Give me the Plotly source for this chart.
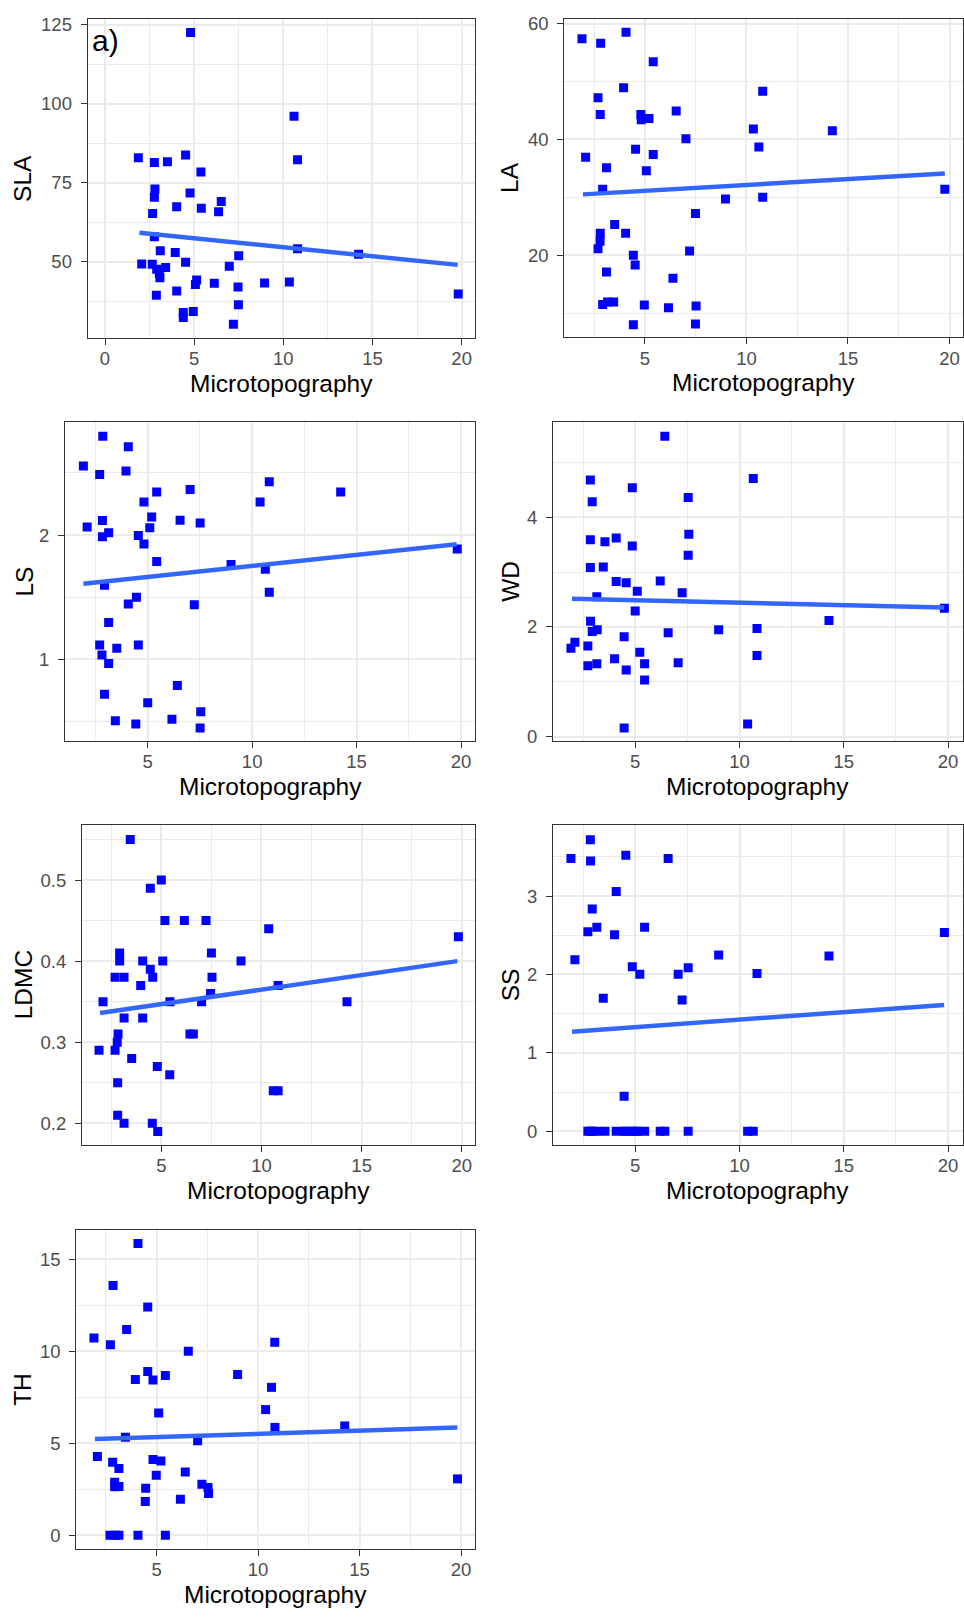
import plotly.graph_objects as go

W, H = 964, 1619

# ---------------- data ----------------
sla_x = [4.80, 10.60, 1.87, 4.52, 2.77, 3.50, 10.80, 5.38, 2.80, 2.77, 4.77, 4.02, 5.40, 6.52,
         6.37, 2.67, 2.77, 3.10, 3.94, 10.80, 14.22, 7.50, 2.06, 2.65, 4.52, 6.97, 2.90, 3.40,
         3.05, 3.08, 5.14, 5.07, 6.13, 7.46, 8.95, 10.34, 2.88, 4.02, 19.81, 7.48, 4.39, 4.39,
         4.95, 7.20]
sla_y = [122.6, 96.1, 82.9, 83.8, 81.4, 81.7, 82.3, 78.4, 73.0, 70.4, 71.8, 67.4, 66.9, 69.1,
         65.8, 65.3, 57.9, 53.5, 52.9, 54.1, 52.4, 51.9, 49.3, 49.2, 49.8, 48.6, 47.6, 48.2,
         46.3, 44.9, 44.2, 42.8, 43.2, 42.0, 43.3, 43.6, 39.4, 40.7, 39.8, 36.4, 33.9, 32.3,
         34.2, 30.2]
sla_fit_x = [1.93, 19.78]
sla_fit_y = [59.2, 49.0]

la_x = [1.90, 2.82, 4.07, 5.41, 3.95, 2.69, 10.80, 2.80, 4.80, 4.82, 5.20, 6.54, 10.34, 14.23,
        7.02, 10.61, 4.54, 5.41, 2.08, 3.11, 5.07, 2.92, 19.77, 8.97, 10.80, 7.49, 3.51, 4.05,
        2.80, 2.79, 2.69, 4.43, 7.20, 4.52, 3.11, 6.38, 2.92, 3.16, 3.46, 4.97, 6.16, 7.52,
        4.43, 7.49]
la_y = [57.4, 56.6, 58.5, 53.4, 48.9, 47.2, 48.3, 44.3, 44.3, 43.4, 43.6, 44.9, 41.8, 41.5,
        40.1, 38.7, 38.3, 37.4, 36.9, 35.1, 34.6, 31.4, 31.4, 29.7, 30.0, 27.2, 25.3, 23.8,
        23.8, 22.4, 21.1, 20.0, 20.7, 18.3, 17.1, 16.0, 11.5, 11.9, 11.9, 11.4, 10.9, 11.2,
        8.0, 8.1]
la_fit_x = [1.95, 19.77]
la_fit_y = [30.5, 34.1]

ls_x = [2.85, 4.07, 1.92, 2.70, 3.96, 10.82, 7.03, 5.43, 14.24, 4.82, 10.38, 5.19, 2.83, 6.55,
        7.51, 2.10, 5.10, 3.13, 2.83, 4.55, 4.82, 19.82, 5.43, 8.99, 10.63, 2.93, 4.46, 4.07,
        7.23, 10.82, 3.13, 2.70, 3.52, 4.55, 2.81, 3.13, 6.42, 2.93, 5.00, 7.54, 3.45, 4.43,
        6.16, 7.51]
ls_y = [2.795, 2.71, 2.556, 2.487, 2.516, 2.428, 2.367, 2.346, 2.346, 2.266, 2.266, 2.146,
        2.117, 2.12, 2.098, 2.066, 2.059, 2.019, 1.987, 1.997, 1.928, 1.888, 1.787, 1.763,
        1.726, 1.596, 1.500, 1.447, 1.439, 1.540, 1.298, 1.117, 1.090, 1.117, 1.037, 0.968,
        0.790, 0.721, 0.652, 0.580, 0.508, 0.481, 0.519, 0.449]
ls_fit_x = [1.92, 19.79]
ls_fit_y = [1.609, 1.926]

wd_x = [6.42, 2.85, 10.66, 4.86, 2.94, 7.54, 7.57, 2.85, 4.09, 3.55, 4.86, 7.54, 2.85, 3.47,
        4.09, 4.57, 6.20, 5.10, 7.25, 3.16, 19.82, 5.00, 2.86, 14.29, 2.94, 3.18, 6.58, 9.00,
        10.84, 4.47, 2.11, 1.92, 2.73, 5.22, 4.01, 10.84, 2.73, 3.16, 5.45, 7.06, 4.57, 5.45,
        4.47, 10.39]
wd_y = [5.478, 4.682, 4.706, 4.537, 4.284, 4.362, 3.692, 3.590, 3.620, 3.554, 3.475, 3.306,
        3.083, 3.095, 2.830, 2.805, 2.836, 2.649, 2.624, 2.552, 2.341, 2.293, 2.106, 2.118,
        1.919, 1.949, 1.894, 1.949, 1.973, 1.822, 1.719, 1.611, 1.653, 1.538, 1.418, 1.478,
        1.291, 1.327, 1.327, 1.345, 1.213, 1.032, 0.157, 0.229]
wd_fit_x = [1.97, 19.81]
wd_fit_y = [2.516, 2.353]

ldmc_x = [3.45, 5.00, 4.45, 5.18, 6.15, 7.23, 10.36, 19.83, 2.92, 7.50, 2.92, 4.07, 5.07, 8.98,
          4.45, 2.69, 3.14, 4.57, 7.53, 3.97, 10.83, 7.46, 2.09, 5.43, 7.01, 14.27, 3.14, 4.07,
          2.84, 6.43, 6.60, 2.80, 1.89, 2.69, 3.52, 4.80, 5.42, 2.82, 10.59, 10.83, 2.82, 3.14,
          4.55, 4.82]
ldmc_y = [0.55, 0.50, 0.49, 0.45, 0.45, 0.45, 0.44, 0.43, 0.41, 0.41, 0.40, 0.40, 0.40, 0.40,
          0.39, 0.38, 0.38, 0.38, 0.38, 0.37, 0.37, 0.36, 0.35, 0.35, 0.35, 0.35, 0.33, 0.33,
          0.31, 0.31, 0.31, 0.30, 0.29, 0.29, 0.28, 0.27, 0.26, 0.25, 0.24, 0.24, 0.21, 0.20,
          0.20, 0.19]
ldmc_fit_x = [1.94, 19.78]
ldmc_fit_y = [0.336, 0.400]

ss_x = [2.85, 1.92, 2.86, 4.55, 6.58, 4.09, 2.94, 2.73, 3.16, 5.45, 19.82, 4.01, 2.11, 9.00,
        14.29, 4.86, 5.22, 7.06, 7.54, 10.84, 3.47, 7.25, 4.47,
        2.73, 2.85, 2.94, 3.16, 3.55, 4.09, 4.47, 4.57, 4.86, 5.00, 5.10, 5.45, 6.20, 6.42,
        7.54, 10.39, 10.66]
ss_y = [3.717, 3.477, 3.447, 3.519, 3.477, 3.059, 2.835, 2.544, 2.603, 2.603, 2.536, 2.506,
        2.186, 2.249, 2.236, 2.097, 2.004, 2.004, 2.084, 2.013, 1.696, 1.675, 0.447,
        0, 0, 0, 0, 0, 0, 0, 0, 0, 0, 0, 0, 0, 0, 0, 0, 0]
ss_fit_x = [1.97, 19.81]
ss_fit_y = [1.270, 1.612]

th_x = [4.08, 2.85, 4.56, 3.52, 1.91, 2.72, 10.82, 6.56, 4.56, 3.95, 4.82, 5.43, 8.99, 10.66,
        10.37, 5.10, 3.46, 10.83, 14.27, 7.02, 19.83, 2.08, 2.83, 3.14, 4.82, 5.21, 6.41, 4.98,
        2.93, 3.14, 2.93, 4.46, 7.23, 7.53, 7.56, 4.44, 6.17, 2.70, 2.95, 3.14, 4.08, 5.43]
th_y = [15.86, 13.58, 12.41, 11.19, 10.72, 10.36, 10.49, 10.00, 8.90, 8.47, 8.44, 8.69, 8.74,
        8.04, 6.83, 6.65, 5.32, 5.86, 5.94, 5.14, 3.06, 4.28, 3.96, 3.63, 4.12, 4.03, 3.44,
        3.26, 2.88, 2.64, 2.63, 2.55, 2.77, 2.59, 2.27, 1.83, 1.96, 0, 0, 0, 0, 0]
th_fit_x = [1.96, 19.82]
th_fit_y = [5.23, 5.85]

x_title = "Microtopography"
panel_label = "a)"

# ---------------- panel layout (pixel boxes) ----------------
panels = [
    dict(t="SLA", x=sla_x, y=sla_y, fx=sla_fit_x, fy=sla_fit_y, xr=[-0.97, 20.75], yr=[25.9, 127.0],
         xd=5, yd=25, box=(87.7, 475, 12.7, 334.3), ytx=22.7),
    dict(t="LA", x=la_x, y=la_y, fx=la_fit_x, fy=la_fit_y, xr=[1.03, 20.64], yr=[5.81, 60.86],
         xd=5, yd=20, box=(564.3, 962.5, 12.7, 333.8), ytx=510),
    dict(t="LS", x=ls_x, y=ls_y, fx=ls_fit_x, fy=ls_fit_y, xr=[1.04, 20.67], yr=[0.343, 2.91],
         xd=5, yd=1, box=(65, 475, 419, 740.7), ytx=25),
    dict(t="WD", x=wd_x, y=wd_y, fx=wd_fit_x, fy=wd_fit_y, xr=[1.06, 20.69], yr=[-0.084, 5.74],
         xd=5, yd=2, box=(553, 962.5, 419, 740.7), ytx=510.3),
    dict(t="LDMC", x=ldmc_x, y=ldmc_y, fx=ldmc_fit_x, fy=ldmc_fit_y, xr=[1.04, 20.66], yr=[0.173, 0.568],
         xd=5, yd=0.1, box=(82, 475, 825, 1147.7), ytx=23.3),
    dict(t="SS", x=ss_x, y=ss_y, fx=ss_fit_x, fy=ss_fit_y, xr=[1.06, 20.69], yr=[-0.177, 3.907],
         xd=5, yd=1, box=(553, 962.5, 825, 1147.7), ytx=510.3),
    dict(t="TH", x=th_x, y=th_y, fx=th_fit_x, fy=th_fit_y, xr=[1.04, 20.69], yr=[-0.74, 16.62],
         xd=5, yd=5, box=(76.3, 475, 1232.7, 1554.3), ytx=21.7),
]

FONT = "Liberation Sans, Arial, sans-serif"
GRID = "#EBEBEB"
BORDER = "#333333"
TICKC = "#4D4D4D"

fig = go.Figure()
layout = dict(width=W, height=H, margin=dict(l=0, r=0, t=0, b=0),
              paper_bgcolor="white", plot_bgcolor="white", showlegend=False,
              font=dict(family=FONT))
annotations = []

for i, p in enumerate(panels, start=1):
    sfx = "" if i == 1 else str(i)
    xa, ya = "x" + sfx, "y" + sfx
    L, R, T, B = p["box"]
    fig.add_trace(go.Scatter(x=p["x"], y=p["y"], mode="markers", xaxis=xa, yaxis=ya,
                             marker=dict(symbol="square", size=9, color="#0000FF",
                                         line=dict(width=0))))
    fig.add_trace(go.Scatter(x=p["fx"], y=p["fy"], mode="lines", xaxis=xa, yaxis=ya,
                             line=dict(color="#3366FF", width=4.5)))
    common = dict(showline=True, mirror=True, linecolor=BORDER, linewidth=1.1,
                  ticks="outside", ticklen=6, tickwidth=1.1, tickcolor=BORDER,
                  showgrid=True, gridcolor=GRID, gridwidth=1.8, zeroline=False,
                  tickfont=dict(family=FONT, size=18.5, color=TICKC), tickmode="linear")
    layout["xaxis" + sfx] = dict(common, domain=[L / W, R / W], range=p["xr"], tick0=0, dtick=p["xd"],
                                 anchor=ya, ticklabelstandoff=-2,
                                 minor=dict(tick0=0, dtick=p["xd"] / 2, showgrid=True,
                                            gridcolor=GRID, gridwidth=0.9, ticks=""))
    layout["yaxis" + sfx] = dict(common, domain=[1 - B / H, 1 - T / H], range=p["yr"], tick0=0, dtick=p["yd"],
                                 anchor=xa, ticklabelstandoff=5,
                                 tickformat=".1f" if p["yd"] < 1 else "",
                                 minor=dict(tick0=0, dtick=p["yd"] / 2, showgrid=True,
                                            gridcolor=GRID, gridwidth=0.9, ticks=""))
    annotations.append(dict(text=x_title, xref="paper", yref="paper", x=(L + R) / 2 / W,
                            y=1 - (B + 46) / H, xanchor="center", yanchor="middle", showarrow=False,
                            font=dict(family=FONT, size=24.5, color="black")))
    annotations.append(dict(text=p["t"], xref="paper", yref="paper", x=p["ytx"] / W,
                            y=1 - (T + B) / 2 / H, xanchor="center", yanchor="middle", showarrow=False,
                            textangle=-90, font=dict(family=FONT, size=24.5, color="black")))

annotations.append(dict(text=panel_label, xref="x", yref="y", x=0, y=120.0, xanchor="center",
                        yanchor="middle", showarrow=False, font=dict(family=FONT, size=30, color="black")))
layout["annotations"] = annotations
fig.update_layout(**layout)
fig.write_html("out.html")
